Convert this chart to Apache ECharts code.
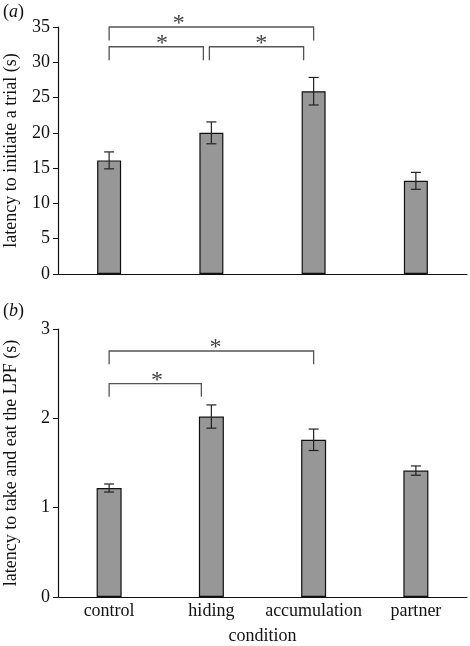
<!DOCTYPE html>
<html><head><meta charset="utf-8">
<script src="https://cdn.jsdelivr.net/npm/echarts@6/dist/echarts.min.js"></script>
<style>html,body{margin:0;padding:0;background:#fff}#c{width:470px;height:646px}</style>
</head><body><div id="c"></div>
<script>
var categories = ['control', 'hiding', 'accumulation', 'partner'];
var meansA = [16.1, 20.0, 25.9, 13.2];
var errA = [1.2, 1.55, 1.95, 1.2];
var meansB = [1.22, 2.02, 1.76, 1.415];
var errB = [0.045, 0.13, 0.12, 0.052];
// brackets: [fromIndex, toIndex, barLevel, dropLevel]
var bracketsA = [[0, 2, 35, 33.1], [0, 1, 32.2, 30.3], [1, 2, 32.2, 30.3]];
var bracketsB = [[0, 2, 2.754, 2.605], [0, 1, 2.388, 2.242]];
var yTitleA = 'latency to initiate a trial (s)';
var yTitleB = 'latency to take and eat the LPF (s)';
var xTitle = 'condition';
var panelLabels = ['a', 'b'];

var serif = '"Liberation Serif", "DejaVu Serif", serif';
// pixel offsets of bracket ends & star positions (style)
var bracketStyleA = [{l: 0, r: 0, star: 0.34}, {l: 0, r: -8, star: 0.56}, {l: -2, r: -10, star: 0.55}];
var bracketStyleB = [{l: 0, r: 0, star: 0.52}, {l: 0, r: -10, star: 0.52}];

var chart = echarts.init(document.getElementById('c'), null, {renderer: 'canvas'});

function errorSeries(gridIdx, means, errs) {
  return {
    type: 'custom', xAxisIndex: gridIdx, yAxisIndex: gridIdx, z: 10,
    data: means.map(function (m, i) { return [i, m - errs[i], m + errs[i]]; }),
    renderItem: function (params, api) {
      var lo = api.coord([api.value(0), api.value(1)]);
      var hi = api.coord([api.value(0), api.value(2)]);
      var hw = 5;
      var st = {stroke: '#222', lineWidth: 1.2};
      return {type: 'group', children: [
        {type: 'line', shape: {x1: lo[0], y1: lo[1], x2: hi[0], y2: hi[1]}, style: st},
        {type: 'line', shape: {x1: lo[0] - hw, y1: lo[1], x2: lo[0] + hw, y2: lo[1]}, style: st},
        {type: 'line', shape: {x1: hi[0] - hw, y1: hi[1], x2: hi[0] + hw, y2: hi[1]}, style: st}
      ]};
    }
  };
}

function bracketSeries(gridIdx, brackets, styles) {
  return {
    type: 'custom', xAxisIndex: gridIdx, yAxisIndex: gridIdx, z: 10, clip: false,
    data: brackets,
    renderItem: function (params, api) {
      var s = styles[params.dataIndex];
      var a = api.coord([api.value(0), api.value(2)]);
      var b = api.coord([api.value(1), api.value(2)]);
      var d = api.coord([api.value(0), api.value(3)]);
      var x1 = a[0] + s.l, x2 = b[0] + s.r, y = a[1], yd = d[1];
      var sx = x1 + (x2 - x1) * s.star;
      return {type: 'group', children: [
        {type: 'polyline', shape: {points: [[x1, yd], [x1, y], [x2, y], [x2, yd]]},
          style: {stroke: '#555', lineWidth: 1.3, fill: null}},
        {type: 'text', x: sx, y: y - 15,
          style: {text: '*', font: '24px ' + serif, fill: '#444', align: 'center', verticalAlign: 'top'}}
      ]};
    }
  };
}

function barSeries(gridIdx, means, w) {
  return {
    type: 'bar', xAxisIndex: gridIdx, yAxisIndex: gridIdx, data: means, barWidth: w,
    itemStyle: {color: '#979797', borderColor: '#111', borderWidth: 1.2}
  };
}

var axisLabelStyle = {color: '#111', fontFamily: serif, fontSize: 18};
var nameStyle = {color: '#111', fontFamily: serif, fontSize: 18};

function panelLabel(letter, top) {
  return {type: 'text', left: 3, top: top, style: {
    text: '{n|(}{i|' + letter + '}{n|)}',
    rich: {n: {font: '18px ' + serif, fill: '#111'}, i: {font: 'italic 18px ' + serif, fill: '#111'}}
  }};
}

chart.setOption({
  animation: false,
  grid: [
    {left: 58, right: 3, top: 27, height: 247, containLabel: false, outerBoundsMode: 'none'},
    {left: 58, right: 3, top: 329, height: 268, containLabel: false, outerBoundsMode: 'none'}
  ],
  xAxis: [
    {type: 'category', gridIndex: 0, data: categories, boundaryGap: true,
      axisLine: {lineStyle: {color: '#111', width: 1.2}}, axisTick: {show: false}, axisLabel: {show: false}},
    {type: 'category', gridIndex: 1, data: categories, boundaryGap: true,
      axisLine: {lineStyle: {color: '#111', width: 1.2}}, axisTick: {show: false},
      axisLabel: Object.assign({margin: 5, interval: 0}, axisLabelStyle),
      name: xTitle, nameLocation: 'middle', nameGap: 30, nameTextStyle: nameStyle}
  ],
  yAxis: [
    {type: 'value', gridIndex: 0, min: 0, max: 35, interval: 5,
      axisLine: {show: true, lineStyle: {color: '#111', width: 1.2}},
      axisTick: {show: true, length: 5, lineStyle: {color: '#111'}},
      splitLine: {show: false},
      axisLabel: Object.assign({margin: 8}, axisLabelStyle),
      name: yTitleA, nameLocation: 'middle', nameGap: 38, nameRotate: 90, nameTextStyle: nameStyle},
    {type: 'value', gridIndex: 1, min: 0, max: 3, interval: 1,
      axisLine: {show: true, lineStyle: {color: '#111', width: 1.2}},
      axisTick: {show: true, length: 5, lineStyle: {color: '#111'}},
      splitLine: {show: false},
      axisLabel: Object.assign({margin: 8}, axisLabelStyle),
      name: yTitleB, nameLocation: 'middle', nameGap: 38, nameRotate: 90, nameTextStyle: nameStyle}
  ],
  graphic: [panelLabel(panelLabels[0], 3), panelLabel(panelLabels[1], 302)],
  series: [
    barSeries(0, meansA, 24), errorSeries(0, meansA, errA), bracketSeries(0, bracketsA, bracketStyleA),
    barSeries(1, meansB, 25), errorSeries(1, meansB, errB), bracketSeries(1, bracketsB, bracketStyleB)
  ]
});
</script></body></html>
